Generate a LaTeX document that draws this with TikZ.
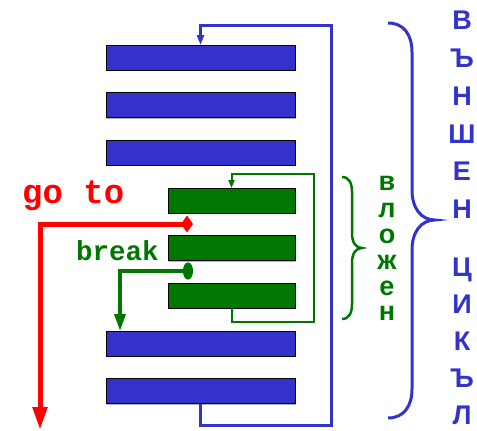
\documentclass[tikz,border=0pt]{standalone}
\usepackage{fontspec}
\setmainfont{Liberation Sans}
\newfontfamily\monof{Liberation Mono}
\usetikzlibrary{arrows.meta,shadows}
\definecolor{bblue}{RGB}{51,51,204}
\definecolor{ggreen}{RGB}{0,120,0}
\definecolor{rred}{RGB}{255,0,0}
\begin{document}
\begin{tikzpicture}[x=1pt,y=-1pt,
  bar/.style={draw=black, line width=0.9pt, minimum height=25pt, inner sep=0pt, outer sep=0pt,
    drop shadow={shadow xshift=1.2pt, shadow yshift=-1.2pt, fill=black!30, opacity=1}},
  bbar/.style={bar, fill=bblue, minimum width=189pt},
  gbar/.style={bar, fill=ggreen, minimum width=127pt},
  bloop/.style={draw=bblue, line width=3pt, -{Triangle[length=10pt,width=7pt]}},
  gloop/.style={draw=ggreen, line width=2pt, -{Triangle[length=8pt,width=6pt]}},
  redline/.style={draw=rred, line width=5pt, {Diamond[length=12pt,width=17pt]}-{Triangle[length=23pt,width=14pt]}},
  brkline/.style={draw=ggreen, line width=3.5pt, {Ellipse[length=10pt,width=17pt]}-{Triangle[length=17pt,width=11pt]}},
  bbrace/.style={draw=bblue, line width=3pt},
  gbrace/.style={draw=ggreen, line width=2.5pt},
  bletter/.style={text=bblue, font=\fontsize{27}{27}\selectfont\bfseries, anchor=base, inner sep=0pt},
  gletter/.style={text=ggreen, font=\fontsize{27}{27}\selectfont\bfseries, anchor=base, inner sep=0pt},
  monolabel/.style={font=\fontsize{#1}{#1}\selectfont\monof\bfseries, anchor=base west, inner sep=0pt}
]
\useasboundingbox (0,0) rectangle (477,431);

% bars
\node[bbar] (b1) at (200.5,57.5) {};
\node[bbar] (b2) at (200.5,105) {};
\node[bbar] (b3) at (200.5,152.5) {};
\node[gbar] (g1) at (231.5,200.5) {};
\node[gbar] (g2) at (231.5,248) {};
\node[gbar] (g3) at (231.5,295.5) {};
\node[bbar] (b4) at (200.5,343.5) {};
\node[bbar] (b5) at (200.5,391) {};

% outer loop
\coordinate (bl1) at (331,425);
\coordinate (bl2) at (331,25);
\draw[bloop] (b5.south) |- (bl1) -- (bl2) -| (b1.north);

% inner loop
\coordinate (gl1) at (314,322);
\coordinate (gl2) at (314,174);
\draw[gloop] (g3.south) |- (gl1) -- (gl2) -| (g1.north);

% go to
\coordinate (rd) at (193,224);
\coordinate (rend) at (40,430);
\draw[redline] (rd) -| (rend);
\node[monolabel=34, text=rred] (goto) at (22,203) {go to};

% break
\coordinate (bko) at (193,271);
\coordinate (bkc) at (120,271);
\draw[brkline] (bko) -- (bkc) -- (bkc |- b4.north);
\node[monolabel=27.5, text=ggreen] (brk) at (76,260) {break};

% braces
\draw[gbrace] (342,177) .. controls (349,177) and (352,183) .. (352,192) -- (352,233)
  .. controls (352,243) and (356,248) .. (362,248)
  .. controls (356,248) and (352,253) .. (352,263) -- (352,304)
  .. controls (352,313) and (349,319) .. (342,319);
\draw[bbrace] (388,23) .. controls (404,23) and (412,35) .. (412,52) -- (412,190)
  .. controls (412,208) and (421,220) .. (435,220)
  .. controls (421,220) and (412,232) .. (412,250) -- (412,389)
  .. controls (412,406) and (404,418) .. (388,418);

% vertical words
\foreach \ch/\yy/\nm in {в/190/v1, л/217/v2, о/243/v3, ж/269/v4, е/295/v5, н/320/v6}
  \node[gletter] (\nm) at (387,\yy) {\ch};
\foreach \ch/\yy/\nm in {В/29/w1, Ъ/67/w2, Н/105/w3, Ш/143/w4, Е/180/w5, Н/218/w6,
                         Ц/276/w7, И/313/w8, К/350/w9, Ъ/387/w10, Л/424/w11}
  \node[bletter] (\nm) at (462,\yy) {\ch};
\end{tikzpicture}
\end{document}
